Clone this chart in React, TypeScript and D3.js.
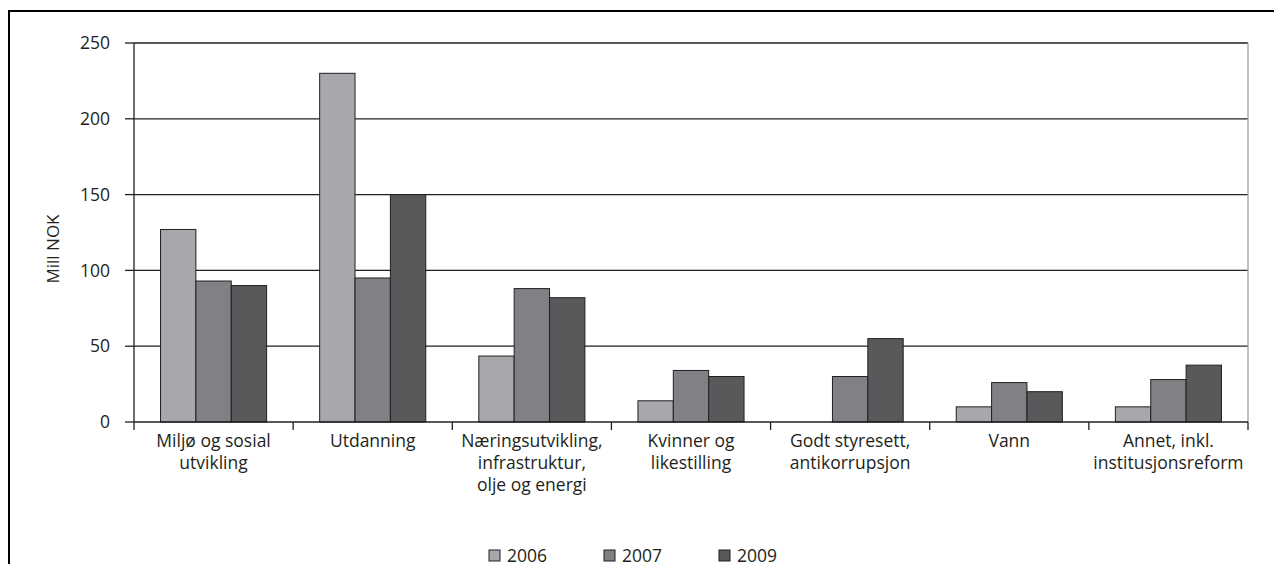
import React from 'react';
import * as d3 from 'd3';

const categories = [
  ['Miljø og sosial', 'utvikling'],
  ['Utdanning'],
  ['Næringsutvikling,', 'infrastruktur,', 'olje og energi'],
  ['Kvinner og', 'likestilling'],
  ['Godt styresett,', 'antikorrupsjon'],
  ['Vann'],
  ['Annet, inkl.', 'institusjonsreform'],
];
const years = ['2006', '2007', '2009'];
const v2006 = [127, 230, 43.5, 14, 0, 10, 10];
const v2007 = [93, 95, 88, 34, 30, 26, 28];
const v2009 = [90, 150, 82, 30, 55, 20, 37.5];
const yTicks = [0, 50, 100, 150, 200, 250];
const colors = ['#a7a8ab', '#808184', '#58595b'];

const W = 1274;
const H = 564;
const font = '"Open Sans", "DejaVu Sans", sans-serif';

const App = () => {
  const series = [v2006, v2007, v2009];
  const left = 134, right = 1248, top = 43, bottom = 422;
  const x0 = d3.scaleBand().domain(categories.map((c, i) => String(i))).range([left, right]);
  const x1 = d3.scaleBand().domain(years).range([0, x0.bandwidth()]).paddingOuter(0.75).paddingInner(0);
  const y = d3.scaleLinear().domain([0, 250]).range([bottom, top]);

  return (
    <svg width={W} height={H} style={{ display: 'block', marginBottom: -8 }} fontFamily={font}>
      <g transform="translate(-8,-8)">
        <rect x={9} y={11} width={1400} height={700} fill="none" stroke="#000" strokeWidth={2} />
        {yTicks.map(t => (
          <g key={t}>
            {t > 0 && <line x1={left} x2={right} y1={y(t)} y2={y(t)} stroke="#231f20" strokeWidth={1.3} />}
            <line x1={left - 9} x2={left} y1={y(t)} y2={y(t)} stroke="#231f20" strokeWidth={1.3} />
            <text x={110} y={y(t)} dy="0.35em" textAnchor="end" fontSize={17.5} fill="#231f20">{t}</text>
          </g>
        ))}
        <line x1={right} x2={right} y1={top} y2={bottom} stroke="#a0a0a0" strokeWidth={1.3} />
        {categories.map((c, i) => (
          <g key={i} transform={`translate(${x0(String(i))},0)`}>
            {series.map((s, j) => s[i] > 0 && (
              <rect key={j} x={x1(years[j])} y={y(s[i])} width={x1.bandwidth()} height={bottom - y(s[i])}
                fill={colors[j]} stroke="#231f20" strokeWidth={1} />
            ))}
            <text textAnchor="middle" fontSize={17.5} fill="#231f20">
              {c.map((line, k) => (
                <tspan key={k} x={x0.bandwidth() / 2} y={bottom + 25 + k * 22}>{line}</tspan>
              ))}
            </text>
          </g>
        ))}
        <line x1={left} x2={left} y1={top} y2={bottom} stroke="#231f20" strokeWidth={1.3} />
        <line x1={left} x2={right} y1={bottom} y2={bottom} stroke="#231f20" strokeWidth={1.3} />
        {d3.range(categories.length + 1).map(i => {
          const xx = left + i * x0.bandwidth();
          return <line key={i} x1={xx} x2={xx} y1={bottom} y2={bottom + 8} stroke="#231f20" strokeWidth={1.3} />;
        })}
        <text transform={`translate(59,249) rotate(-90)`} textAnchor="middle" fontSize={17} fill="#231f20">Mill NOK</text>
        {years.map((yr, j) => (
          <g key={yr} transform={`translate(${489 + j * 115},550)`}>
            <rect x={0} y={0} width={11} height={11} fill={colors[j]} stroke="#231f20" strokeWidth={1} />
            <text x={18} y={6} dy="0.35em" fontSize={17.5} fill="#231f20">{yr}</text>
          </g>
        ))}
      </g>
    </svg>
  );
};

export default App;
